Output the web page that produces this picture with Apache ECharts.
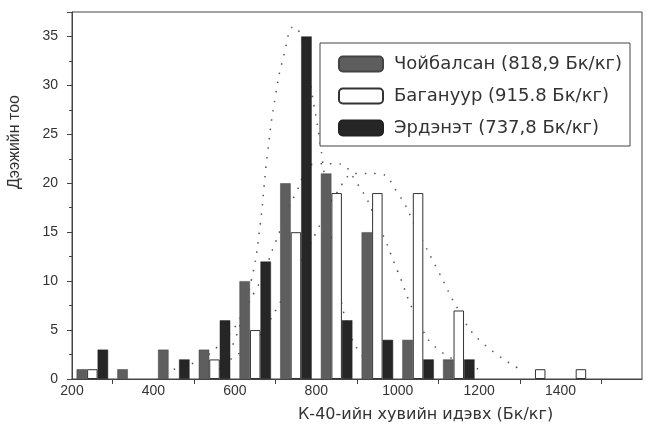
<!DOCTYPE html>
<html>
<head>
<meta charset="utf-8">
<script src="https://cdn.jsdelivr.net/npm/echarts@6/dist/echarts.min.js"></script>
<style>
  html, body { margin: 0; padding: 0; background: #fff; }
  #chart { width: 655px; height: 439px; }
</style>
</head>
<body>
<div id="chart"></div>
<script>
// bin centres (Бк/кг), 100-wide bins
const binCenters = [250, 350, 450, 550, 650, 750, 850, 950, 1050, 1150, 1250, 1350, 1450]
const choibalsan = [1, 1, 3, 3, 10, 20, 21, 15, 4, 2, 0, 0, 0]
const baganuur = [1, 0, 0, 2, 5, 15, 19, 19, 19, 7, 0, 1, 1]
const erdenet = [3, 0, 2, 6, 12, 35, 6, 4, 2, 2, 0, 0, 0]

const seriesNames = ['Чойбалсан (818,9 Бк/кг)', 'Багануур (915.8 Бк/кг)', 'Эрдэнэт (737,8 Бк/кг)']

// dotted fit curves
const erdenetFitX = [560, 600, 640, 660, 680, 700, 720, 745, 770, 790, 810, 830, 850, 880, 920, 960]
const erdenetFitY = [1, 4, 10, 15, 23, 29, 33, 36, 34, 29, 24, 17, 11, 5, 2, 0.5]
const choibalsanFitX = [450, 550, 650, 700, 750, 800, 850, 900, 950, 1000, 1050, 1100, 1200]
const choibalsanFitY = [1, 3, 9, 14, 19, 22, 22, 20, 16, 11, 6, 3, 1]
const baganuurFitX = [550, 650, 700, 750, 800, 850, 900, 950, 1000, 1050, 1100, 1150, 1200, 1300]
const baganuurFitY = [1, 4, 7, 11, 15, 19, 21, 21, 19, 15, 11, 7, 4, 1]

const xTicks = [200, 400, 600, 800, 1000, 1200, 1400]
const yTicks = [0, 5, 10, 15, 20, 25, 30, 35]

// empty bins are left out (no bar drawn)
const pair = (xs, ys) => xs.map((x, i) => [x, ys[i] === 0 ? '-' : ys[i]])

const myChart = echarts.init(document.getElementById('chart'))

const fitLine = (xs, ys) => ({
  type: 'line',
  data: xs.map((x, i) => [x, ys[i]]),
  smooth: true,
  symbol: 'none',
  silent: true,
  lineStyle: { color: '#555', width: 1.5, type: [1.5, 8] },
  z: 1
})

const option = {
  animation: false,
  backgroundColor: '#fff',
  textStyle: { fontFamily: 'Liberation Sans, Arial, sans-serif' },
  grid: {
    left: 72, right: 13, top: 12, bottom: 60,
    show: true, borderColor: '#444', borderWidth: 1
  },
  legend: {
    data: seriesNames,
    left: 320, top: 43,
    orient: 'vertical',
    itemWidth: 44, itemHeight: 15, itemGap: 14,
    padding: [12, 8, 9, 18],
    borderColor: '#444', borderWidth: 1,
    backgroundColor: '#fff',
    textStyle: { fontSize: 18, color: '#333', fontFamily: 'DejaVu Sans, sans-serif', padding: [0, 0, 0, 6] }
  },
  xAxis: {
    type: 'value',
    min: 200, max: 1600, interval: 200,
    axisLine: { lineStyle: { color: '#444' } },
    axisTick: { show: false },
    minorTick: { show: true, splitNumber: 2, length: 5, lineStyle: { color: '#444' } },
    splitLine: { show: false },
    axisLabel: {
      color: '#333', fontSize: 14, margin: 5,
      formatter: v => xTicks.includes(v) ? String(v) : ''
    }
  },
  yAxis: {
    type: 'value',
    min: 0, max: 37.5, interval: 5,
    axisLine: { show: true, lineStyle: { color: '#444' } },
    axisTick: { show: true, length: 5, lineStyle: { color: '#444' } },
    minorTick: { show: true, splitNumber: 2, length: 3, lineStyle: { color: '#444' } },
    splitLine: { show: false },
    axisLabel: {
      color: '#333', fontSize: 14, margin: 14,
      formatter: v => yTicks.includes(v) ? String(v) : ''
    }
  },
  graphic: [
    {
      type: 'text', left: 7, top: 95, rotation: Math.PI / 2,
      style: { text: 'Дээжийн тоо', fontSize: 16, fill: '#333', fontFamily: 'Liberation Sans, Arial, sans-serif' }
    },
    {
      type: 'text', left: 298, top: 407,
      style: { text: 'К-40-ийн хувийн идэвх (Бк/кг)', fontSize: 16, fill: '#333', fontFamily: 'DejaVu Sans, sans-serif' }
    }
  ],
  series: [
    {
      name: seriesNames[0], type: 'bar', data: pair(binCenters, choibalsan),
      barWidth: 10.5, barGap: '0%',
      itemStyle: { color: '#5e5e5e', borderColor: '#444', borderWidth: 0.5 }
    },
    {
      name: seriesNames[1], type: 'bar', data: pair(binCenters, baganuur),
      barWidth: 10.5, barGap: '0%',
      itemStyle: { color: '#fff', borderColor: '#333', borderWidth: 1 }
    },
    {
      name: seriesNames[2], type: 'bar', data: pair(binCenters, erdenet),
      barWidth: 10.5, barGap: '0%',
      itemStyle: { color: '#262626', borderColor: '#222', borderWidth: 0.5 }
    },
    fitLine(erdenetFitX, erdenetFitY),
    fitLine(choibalsanFitX, choibalsanFitY),
    fitLine(baganuurFitX, baganuurFitY)
  ]
}

myChart.setOption(option)
window.addEventListener('resize', () => {
  myChart.resize()
})
</script>
</body>
</html>
